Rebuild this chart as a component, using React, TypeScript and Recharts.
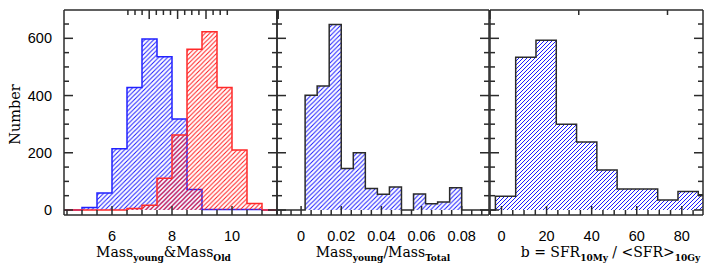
import { Area, AreaChart, XAxis, YAxis } from 'recharts'

// left panel: young / old stellar mass, 0.5 dex bins
const massEdges = [4.5, 5, 5.5, 6, 6.5, 7, 7.5, 8, 8.5, 9, 9.5, 10, 10.5, 11, 11.5]
const youngCounts = [0, 9, 59, 214, 428, 598, 536, 318, 72, 2, 2, 2, 2, 0]
const oldCounts = [0, 0, 0, 0, 5, 17, 111, 262, 562, 623, 428, 210, 23, 0]

// middle panel: young mass fraction
const ratioEdges = [0.002, 0.008, 0.014, 0.02, 0.026, 0.032, 0.038, 0.044, 0.05, 0.056, 0.062, 0.068, 0.074, 0.08]
const ratioCounts = [401, 433, 648, 145, 200, 75, 55, 80, 0, 56, 22, 28, 78]

// right panel: birthrate parameter b
const bEdges = [-2.7, 6.3, 15.3, 24.3, 33.3, 42.3, 51.3, 60.3, 69.3, 78.3, 87.3, 96.3]
const bCounts = [48, 534, 593, 300, 238, 140, 73, 73, 35, 65, 53]

const countTicks = [0, 50, 100, 150, 200, 250, 300, 350, 400, 450, 500, 550, 600, 650]
const countLabels = [0, 200, 400, 600]
const massTicks = [4.5, 5, 5.5, 6, 6.5, 7, 7.5, 8, 8.5, 9, 9.5, 10, 10.5, 11, 11.5]
const massLabels = [6, 8, 10]
const ratioTicks = [
  -0.01, -0.005, 0, 0.005, 0.01, 0.015, 0.02, 0.025, 0.03, 0.035, 0.04, 0.045, 0.05, 0.055, 0.06, 0.065,
  0.07, 0.075, 0.08, 0.085, 0.09,
]
const ratioLabels = [0, 0.02, 0.04, 0.06, 0.08]
const bTicks = [-5, 0, 5, 10, 15, 20, 25, 30, 35, 40, 45, 50, 55, 60, 65, 70, 75, 80, 85]
const bLabels = [0, 20, 40, 60, 80]

const countDomain = [-17.5, 699]
const FRAME = '#2b2b2b'
const SANS = '"Liberation Sans", Arial, sans-serif'
const SERIF = '"DejaVu Serif", serif'

type Row = Record<string, number>

function stepRows(edges: number[], series: Record<string, number[]>, lo: number, hi: number) {
  const keys = Object.keys(series)
  const zero: Row = Object.fromEntries(keys.map((k) => [k, 0]))
  const rows: Row[] = [{ x: lo, ...zero }]
  edges.forEach((e, i) => rows.push({ x: e, ...Object.fromEntries(keys.map((k) => [k, series[k][i] ?? 0])) }))
  if (hi > edges[edges.length - 1]) rows.push({ x: hi, ...zero })
  return rows
}

function tick(side: 'bottom' | 'top' | 'left' | 'right', majors: number[], fmt?: (v: number) => string) {
  return (p: any) => {
    const { x, y, payload } = p
    const v = payload.value
    const major = majors.some((m) => Math.abs(m - v) < 1e-9)
    const len = major ? 9 : 5
    const dx = side === 'left' ? len : side === 'right' ? -len : 0
    const dy = side === 'top' ? len : side === 'bottom' ? -len : 0
    return (
      <g>
        <line x1={x} y1={y} x2={x + dx} y2={y + dy} stroke={FRAME} strokeWidth={1.5} />
        {major && fmt && side === 'bottom' && (
          <text x={x} y={y + 26} textAnchor="middle" fontFamily={SANS} fontSize={14.5} fill="#000">
            {fmt(v)}
          </text>
        )}
        {major && fmt && side === 'left' && (
          <text x={x - 12} y={y + 5} textAnchor="end" fontFamily={SANS} fontSize={14.5} fill="#000">
            {fmt(v)}
          </text>
        )}
      </g>
    )
  }
}

function Hatch({ id, color, step }: { id: string; color: string; step: number }) {
  const s = step
  return (
    <pattern id={id} patternUnits="userSpaceOnUse" width={s} height={s}>
      <path d={`M0,${s} L${s},0 M-1,1 L1,-1 M${s - 1},${s + 1} L${s + 1},${s - 1}`} stroke={color} strokeWidth={1} />
    </pattern>
  )
}

interface SeriesDef {
  key: string
  stroke: string
  hatch: string
  color: string
  step: number
}

interface PanelProps {
  left: number
  width: number
  leftW: number
  rows: Row[]
  series: SeriesDef[]
  xDomain: number[]
  xTicks: number[]
  xLabels: number[]
  fmt: (v: number) => string
  yLabels: boolean
  title: (cx: number, y: number) => React.ReactNode
  titleShift: number
}

function Panel(p: PanelProps) {
  const axisLine = { stroke: FRAME, strokeWidth: 1.5 }
  return (
    <div style={{ position: 'absolute', left: p.left, top: 0 }}>
      <AreaChart
        width={p.width}
        height={275}
        data={p.rows}
        margin={{ top: 0, right: 0, bottom: 0, left: 0 }}
        style={{ overflow: 'visible' }}
      >
        <defs>
          {p.series.map((s) => (
            <Hatch key={s.hatch} id={s.hatch} color={s.color} step={s.step} />
          ))}
        </defs>
        <XAxis
          xAxisId="b"
          dataKey="x"
          type="number"
          domain={p.xDomain}
          allowDataOverflow
          ticks={p.xTicks}
          interval={0}
          height={60}
          tickSize={0}
          tickMargin={0}
          tickLine={false}
          axisLine={axisLine}
          tick={tick('bottom', p.xLabels, p.fmt)}
          label={(lp: any) => {
            const vb = lp.viewBox
            return p.title(vb.x + vb.width / 2 + p.titleShift, vb.y + 42)
          }}
        />
        <XAxis
          xAxisId="t"
          orientation="top"
          type="number"
          domain={p.xDomain}
          allowDataOverflow
          ticks={p.xTicks}
          interval={0}
          height={10}
          tickSize={0}
          tickMargin={0}
          tickLine={false}
          axisLine={axisLine}
          tick={tick('top', p.xLabels)}
        />
        <YAxis
          yAxisId="l"
          type="number"
          domain={countDomain}
          allowDataOverflow
          ticks={countTicks}
          interval={0}
          width={p.leftW}
          tickSize={0}
          tickMargin={0}
          tickLine={false}
          axisLine={axisLine}
          tick={tick('left', countLabels, p.yLabels ? (v) => String(v) : undefined)}
          label={
            p.yLabels
              ? (lp: any) => {
                  const vb = lp.viewBox
                  const cy = vb.y + vb.height / 2 + 2
                  return (
                    <text
                      x={vb.x + 20}
                      y={cy}
                      transform={`rotate(-90 ${vb.x + 20} ${cy})`}
                      textAnchor="middle"
                      fontFamily={SERIF}
                      fontSize={14.5}
                      fill="#000"
                    >
                      Number
                    </text>
                  )
                }
              : undefined
          }
        />
        <YAxis
          yAxisId="r"
          orientation="right"
          type="number"
          domain={countDomain}
          allowDataOverflow
          ticks={countTicks}
          interval={0}
          width={1}
          tickSize={0}
          tickMargin={0}
          tickLine={false}
          axisLine={axisLine}
          tick={tick('right', countLabels)}
        />
        {p.series.map((s) => (
          <Area
            key={s.key}
            xAxisId="b"
            yAxisId="l"
            type="stepAfter"
            dataKey={s.key}
            stroke={s.stroke}
            strokeWidth={1.5}
            fill={`url(#${s.hatch})`}
            fillOpacity={1}
            isAnimationActive={false}
            dot={false}
            activeDot={false}
          />
        ))}
      </AreaChart>
    </div>
  )
}

const sub = (t: string) => (
  <tspan dy={4} fontSize={9} fontWeight="bold">
    {t}
  </tspan>
)

const titleStyle = { fontFamily: SERIF, fontSize: 14, fill: '#000' }

const massRows = stepRows(massEdges, { young: youngCounts, old: oldCounts }, 4.4, 11.5)
const ratioRows = stepRows(ratioEdges, { n: ratioCounts }, -0.012, 0.0936)
const bRows = stepRows(bEdges, { n: bCounts }, -5.1, 89.4)

export default function App() {
  return (
    <div style={{ position: 'absolute', left: 0, top: 0, width: 706, height: 275, background: '#fff' }}>
      <Panel
        left={0}
        width={278}
        leftW={64}
        rows={massRows}
        series={[
          { key: 'young', stroke: '#2222ff', hatch: 'hb1', color: '#1a1aff', step: 4.5 },
          { key: 'old', stroke: '#ff2a2a', hatch: 'hr1', color: '#ff1a1a', step: 4.5 },
        ]}
        xDomain={[4.4, 11.5]}
        xTicks={massTicks}
        xLabels={massLabels}
        fmt={(v) => String(v)}
        yLabels
        titleShift={-7}
        title={(cx, y) => (
          <text x={cx} y={y} textAnchor="middle" {...titleStyle}>
            Mass{sub('young')}
            <tspan dy={-4}>&amp;Mass</tspan>
            {sub('Old')}
          </text>
        )}
      />
      <Panel
        left={276}
        width={214}
        leftW={1}
        rows={ratioRows}
        series={[{ key: 'n', stroke: FRAME, hatch: 'hb2', color: '#1a1aff', step: 4.5 }]}
        xDomain={[-0.012, 0.0936]}
        xTicks={ratioTicks}
        xLabels={ratioLabels}
        fmt={(v) => (v === 0 ? '0' : v.toFixed(2))}
        yLabels={false}
        titleShift={0}
        title={(cx, y) => (
          <text x={cx} y={y} textAnchor="middle" {...titleStyle}>
            Mass{sub('young')}
            <tspan dy={-4}>/Mass</tspan>
            {sub('Total')}
          </text>
        )}
      />
      <Panel
        left={489}
        width={215}
        leftW={1}
        rows={bRows}
        series={[{ key: 'n', stroke: FRAME, hatch: 'hb3', color: '#1a1aff', step: 4 }]}
        xDomain={[-5.1, 89.4]}
        xTicks={bTicks}
        xLabels={bLabels}
        fmt={(v) => String(v)}
        yLabels={false}
        titleShift={14}
        title={(cx, y) => (
          <text x={cx} y={y} textAnchor="middle" {...titleStyle}>
            {'b\u00a0=\u00a0SFR'}
            {sub('10My')}
            <tspan dy={-4}>{'\u00a0/\u00a0<SFR>'}</tspan>
            {sub('10Gy')}
          </text>
        )}
      />
    </div>
  )
}
